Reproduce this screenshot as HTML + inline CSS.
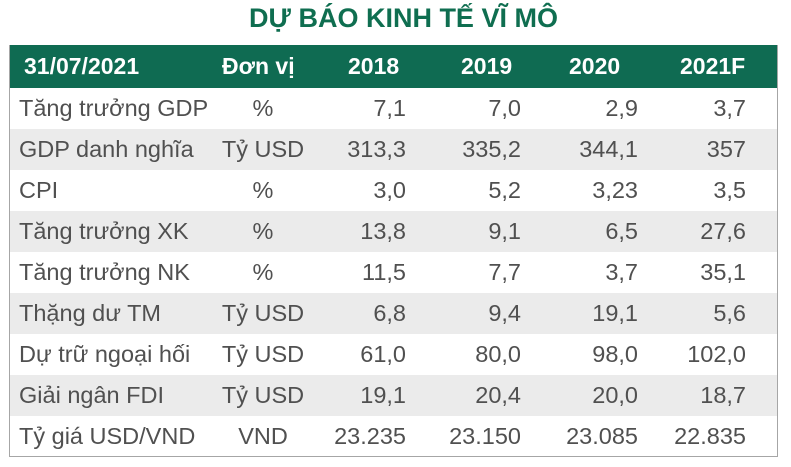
<!DOCTYPE html>
<html><head><meta charset="utf-8"><style>
body{margin:0;width:791px;height:467px;background:#fff;position:relative;overflow:hidden;font-family:"Liberation Sans",sans-serif}
.t{position:absolute;top:3px;left:0;width:791px;text-align:center;color:#0f6e50;font-weight:bold;font-size:27px;padding-left:8px}
.tb{position:absolute;left:9px;top:45px;width:767px;height:411px;border:1px solid #a6a6a6;border-top:none}
.h{position:absolute;left:0;top:0;width:767px;height:43px;background:#0f6b52}
.r{position:absolute;left:0;width:767px;height:41px}
.g{background:#ebebeb}
.c{position:absolute;font-size:23.5px;color:#505050;white-space:nowrap;line-height:41px}
.hc{position:absolute;font-size:23px;color:#fff;font-weight:bold;line-height:43px;top:0}
</style></head><body>
<div class="t">DỰ BÁO KINH TẾ VĨ MÔ</div>
<div class="tb">
<div class="h">
<span class="hc" style="left:14px">31/07/2021</span>
<span class="hc" style="left:212px">Đơn vị</span>
<span class="hc" style="left:338px">2018</span>
<span class="hc" style="left:451px">2019</span>
<span class="hc" style="left:559px">2020</span>
<span class="hc" style="left:670px">2021F</span>
</div>
<div id="rows"></div>
</div>
<script>
var d=[["Tăng trưởng GDP","%","7,1","7,0","2,9","3,7"],["GDP danh nghĩa","Tỷ USD","313,3","335,2","344,1","357"],["CPI","%","3,0","5,2","3,23","3,5"],["Tăng trưởng XK","%","13,8","9,1","6,5","27,6"],["Tăng trưởng NK","%","11,5","7,7","3,7","35,1"],["Thặng dư TM","Tỷ USD","6,8","9,4","19,1","5,6"],["Dự trữ ngoại hối","Tỷ USD","61,0","80,0","98,0","102,0"],["Giải ngân FDI","Tỷ USD","19,1","20,4","20,0","18,7"],["Tỷ giá USD/VND","VND","23.235","23.150","23.085","22.835"]];
var h="",rx=[396,511,628,736];
d.forEach(function(r,i){h+='<div class="r'+(i%2?' g':'')+'" style="top:'+(43+i*41)+'px"><span class="c" style="left:9px">'+r[0]+'</span><span class="c" style="left:193px;width:120px;text-align:center">'+r[1]+'</span>';
for(var k=0;k<4;k++)h+='<span class="c" style="right:'+(767-rx[k])+'px">'+r[k+2]+'</span>';h+='</div>';});
document.getElementById("rows").innerHTML=h;
</script>
</body></html>
